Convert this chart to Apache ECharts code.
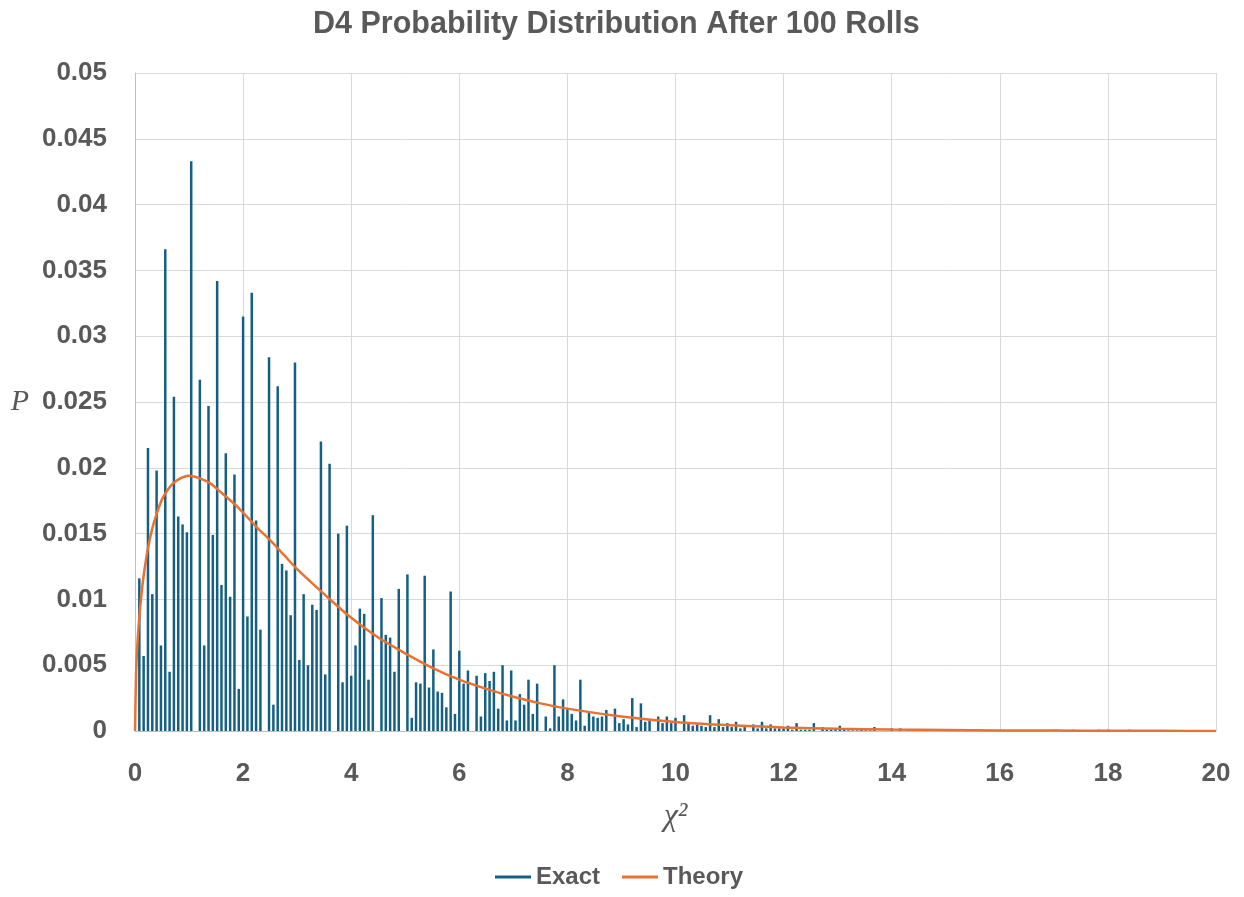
<!DOCTYPE html>
<html>
<head>
<meta charset="utf-8">
<script src="https://cdn.jsdelivr.net/npm/echarts@6/dist/echarts.min.js"></script>
<style>
html,body{margin:0;padding:0;background:#fff;}
#chart{width:1244px;height:897px;}
</style>
</head>
<body>
<div id="chart"></div>
<script>
// Exact distribution: chi-square values and probabilities
const exactX = [
0.08,0.16,0.24,0.32,0.40,0.48,0.56,0.64,0.72,0.80,0.88,0.96,1.04,1.20,1.28,1.36,1.44,1.52,1.60,1.68,
1.76,1.84,1.92,2.00,2.08,2.16,2.24,2.32,2.48,2.56,2.64,2.72,2.80,2.88,2.96,3.04,3.12,3.20,3.28,3.36,
3.44,3.52,3.60,3.76,3.84,3.92,4.00,4.08,4.16,4.24,4.32,4.40,4.56,4.64,4.72,4.80,4.88,5.04,5.12,5.20,
5.28,5.36,5.44,5.52,5.60,5.68,5.76,5.84,5.92,6.00,6.08,6.16,6.32,6.40,6.48,6.56,6.64,6.72,6.80,6.88,
6.96,7.04,7.12,7.20,7.28,7.36,7.44,7.60,7.68,7.76,7.84,7.92,8.00,8.08,8.16,8.24,8.32,8.40,8.48,8.56,
8.64,8.72,8.88,8.96,9.04,9.12,9.20,9.28,9.36,9.44,9.52,9.68,9.76,9.84,9.92,10.00,10.16,10.24,10.32,10.40,
10.48,10.56,10.64,10.72,10.80,10.88,10.96,11.04,11.12,11.20,11.28,11.44,11.52,11.60,11.68,11.76,11.84,11.92,12.00,12.08,
12.16,12.24,12.32,12.40,12.48,12.56,12.72,12.80,12.88,12.96,13.04,13.12,13.20,13.28,13.36,13.44,13.52,13.60,13.68,14.00,
14.16,14.32,14.48,14.80,14.96,15.20,15.52,16.00,16.40,17.04,17.36,17.84,18.00,18.40
];
const exactP = [
0.0116,0.0057,0.0215,0.0104,0.0198,0.0065,0.0366,0.0045,0.0254,0.0163,0.0157,0.0151,0.0433,0.0267,0.0065,0.0247,0.0149,0.0342,0.0111,0.0211,
0.0102,0.0195,0.0032,0.0315,0.0087,0.0333,0.0160,0.0077,0.0284,0.0020,0.0262,0.0127,0.0122,0.0088,0.0280,0.0054,0.0104,0.0050,0.0096,0.0092,
0.0220,0.0043,0.0203,0.0150,0.0037,0.0156,0.0042,0.0065,0.0093,0.0089,0.0039,0.0164,0.0101,0.0073,0.0071,0.0045,0.0108,0.0119,0.0010,0.0037,
0.0036,0.0118,0.0033,0.0062,0.0030,0.0029,0.0018,0.0106,0.0013,0.0061,0.0036,0.0046,0.0042,0.0011,0.0044,0.0038,0.0045,0.0017,0.0050,0.0008,
0.0046,0.0008,0.0028,0.0020,0.0039,0.0013,0.0036,0.0011,0.0002,0.0050,0.0011,0.0024,0.0017,0.0013,0.0008,0.0039,0.0004,0.0014,0.0011,0.0010,
0.0011,0.0016,0.0017,0.0006,0.0009,0.0005,0.0025,0.0003,0.0021,0.0007,0.0008,0.0011,0.0006,0.0011,0.0006,0.0010,0.0012,0.0006,0.0004,0.0005,
0.0004,0.0003,0.0012,0.0003,0.0009,0.0003,0.0006,0.0003,0.0007,0.0002,0.0003,0.0005,0.0002,0.0007,0.0002,0.0005,0.0002,0.0002,0.0002,0.0004,
0.0001,0.0006,0.0001,0.0001,0.0001,0.0006,0.0003,0.0001,0.0001,0.0001,0.0004,0.0001,0.00005,0.00005,0.00005,0.0001,0.00005,0.00005,0.0003,0.0002,
0.0002,0.0001,0.00015,0.0001,0.00015,0.00005,0.00005,0.00005,0.00005,0.0001,0.0001,0.0001,0.0001,0.0001
];

// Theory curve
const theoryX = [0,0.02,0.04,0.08,0.12,0.16,0.24,0.32,0.40,0.50,0.60,0.70,0.80,0.90,1.00,1.20,1.40,1.60,1.80,2.00,
2.25,2.50,2.75,3.00,3.50,4.00,4.50,5.00,5.50,6.00,6.50,7.00,7.50,8.00,9.00,10.00,11.00,12.00,13.00,14.00,
15.00,16.00,17.00,18.00,19.00,20.00];
const theoryP = [0,0.0044,0.0063,0.0087,0.0104,0.0118,0.0139,0.0154,0.0165,0.0176,0.0183,0.0188,0.0191,0.0193,0.0194,0.0192,0.0188,0.0181,0.0174,0.0166,
0.0155,0.0145,0.0134,0.0123,0.0104,0.0086,0.0071,0.0059,0.0048,0.0039,0.0032,0.0026,0.0021,0.0017,0.0011,0.00068,0.00043,0.00027,0.00017,0.00011,
0.00007,0.00004,0.00003,0.00001,0.00001,0];

// Axis ticks
const xMin = 0, xMax = 20, xStep = 2;
const yMin = 0, yMax = 0.05, yStep = 0.005;

const exactData = exactX.map((x, i) => [x, exactP[i]]);
const theoryData = theoryX.map((x, i) => [x, theoryP[i]]);

const chart = echarts.init(document.getElementById('chart'), null, {renderer: 'canvas'});
const txt = '#595959';
chart.setOption({
  animation: false,
  backgroundColor: '#ffffff',
  title: {
    text: 'D4 Probability Distribution After 100 Rolls',
    left: 308, top: 4,
    textStyle: {fontFamily: 'Liberation Sans', fontSize: 30.5, fontWeight: 'bold', color: txt}
  },
  grid: {left: 135, right: 28, top: 73, bottom: 166, containLabel: false},
  legend: {
    left: 490, top: 860,
    itemWidth: 36, itemHeight: 3, itemGap: 22,
    textStyle: {fontFamily: 'Liberation Sans', fontSize: 24, fontWeight: 'bold', color: txt},
    data: [
      {name: 'Exact', icon: 'rect', itemStyle: {color: '#156082'}},
      {name: 'Theory', icon: 'rect', itemStyle: {color: '#E97132'}}
    ]
  },
  xAxis: {
    type: 'value', min: xMin, max: xMax, interval: xStep,
    name: 'χ²', nameLocation: 'middle', nameGap: 70,
    nameTextStyle: {fontFamily: 'Liberation Serif', fontStyle: 'italic', fontSize: 32, color: txt},
    axisLine: {show: true, lineStyle: {color: '#bfbfbf', width: 1}},
    axisTick: {show: false},
    axisLabel: {margin: 30, fontFamily: 'Liberation Sans', fontSize: 26, fontWeight: 'bold', color: txt},
    splitLine: {show: true, lineStyle: {color: '#d9d9d9', width: 1}}
  },
  yAxis: {
    type: 'value', min: yMin, max: yMax, interval: yStep,
    name: 'P', nameLocation: 'middle', nameRotate: 0, nameGap: 106,
    nameTextStyle: {fontFamily: 'Liberation Serif', fontStyle: 'italic', fontSize: 30, color: txt},
    axisLine: {show: true, lineStyle: {color: '#bfbfbf', width: 1}},
    axisTick: {show: false},
    axisLabel: {margin: 28, fontFamily: 'Liberation Sans', fontSize: 26, fontWeight: 'bold', color: txt},
    splitLine: {show: true, lineStyle: {color: '#d9d9d9', width: 1}}
  },
  series: [
    {
      name: 'Exact', type: 'bar', data: exactData, barWidth: 2.5,
      itemStyle: {color: '#156082'}, z: 2
    },
    {
      name: 'Theory', type: 'line', data: theoryData, smooth: 0.3, showSymbol: false, symbol: 'none',
      lineStyle: {color: '#E97132', width: 2.5}, itemStyle: {color: '#E97132'}, z: 3
    }
  ]
});
</script>
</body>
</html>
